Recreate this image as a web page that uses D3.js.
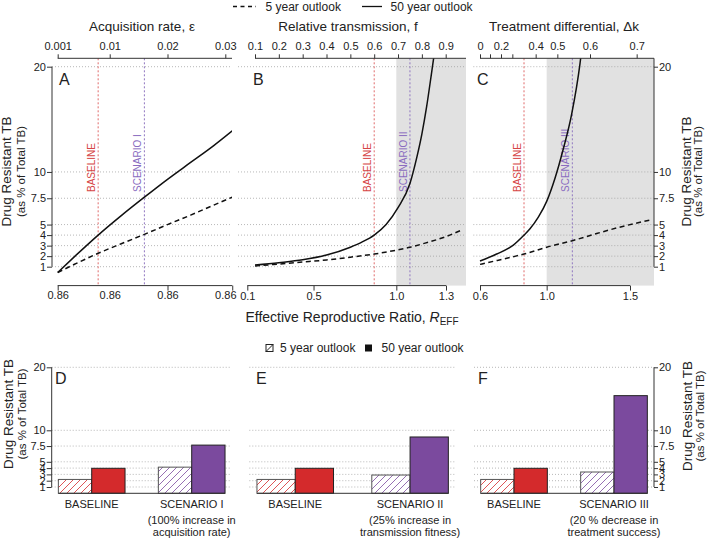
<!DOCTYPE html>
<html><head><meta charset="utf-8">
<script src="https://cdn.jsdelivr.net/npm/d3@7"></script>
<style>body{margin:0;background:#fff}svg text{font-family:"Liberation Sans",Arial,sans-serif}</style>
</head><body>
<svg id="c" width="707" height="538"></svg>
<script>
// ---------- DATA ----------
const yTicks = [1, 2, 3, 4, 5, 7.5, 10, 20];

// Panel A: acquisition rate epsilon
const epsTicks = [0.001, 0.01, 0.02, 0.03];
const epsBottomLabels = ["0.86", "0.86", "0.86", "0.86"];
const epsBottomMarks = [0.001, 0.02, 0.0312];
const epsValues  = [0.001, 0.004, 0.008, 0.012, 0.016, 0.02, 0.024, 0.028, 0.0312];
const epsSolid   = [0.45, 2.0, 4.0, 5.85, 7.6, 9.3, 10.9, 12.5, 13.9];
const epsDashed  = [0.45, 1.25, 2.27, 3.18, 4.07, 5.0, 5.9, 6.85, 7.6];
const epsBaseline = 0.008, epsScenario = 0.016;

// Panel B: relative transmission f
const fTicks = [0.1, 0.2, 0.3, 0.4, 0.5, 0.6, 0.7, 0.8, 0.9];
const rBTicks = [0.1, 0.5, 1.0, 1.3];
const fSolidX = [0.1, 0.2, 0.3, 0.4, 0.5, 0.55, 0.6, 0.65, 0.7, 0.75, 0.78, 0.8, 0.82, 0.84, 0.86];
const fSolid  = [1.16, 1.38, 1.65, 2.1, 2.85, 3.35, 4.0, 5.0, 6.6, 8.9, 11.5, 13.6, 16.2, 19.3, 22.5];
const fDashedX = [0.1, 0.2, 0.3, 0.4, 0.5, 0.6, 0.7, 0.75, 0.8, 0.9, 0.967];
const fDashed  = [1.06, 1.25, 1.44, 1.64, 1.9, 2.2, 2.6, 2.84, 3.15, 3.85, 4.48];
const fBaseline = 0.6, fScenario = 0.75;

// Panel C: treatment differential (curves keyed by R_EFF)
const rCTicks = [0.6, 1.0, 1.5];
const dkTicks = [0, 0.1, 0.2, 0.3, 0.4, 0.5, 0.6, 0.7];
const dkTickR = [0.6, 0.66, 0.726, 0.794, 0.934, 1.064, 1.26, 1.54];
const dkLabeled = [0, 0.2, 0.4, 0.5, 0.6, 0.7];
const rCSolidX = [0.6, 0.7, 0.8, 0.864, 0.9, 0.95, 1.0, 1.05, 1.1, 1.15, 1.2, 1.22];
const rCSolid  = [1.54, 2.2, 3.05, 4.0, 4.6, 5.7, 7.2, 9.4, 12.2, 15.5, 20.3, 23];
const rCDashedX = [0.6, 0.7, 0.8, 0.864, 1.0, 1.154, 1.3, 1.45, 1.62];
const rCDashed  = [1.22, 1.58, 1.95, 2.2, 2.85, 3.47, 4.15, 4.8, 5.43];
const rCBaseline = 0.864, rCScenario = 1.154;

// Bar panels
const barOutlooks = ["5 year outlook", "50 year outlook"];
const catsD = ["BASELINE", "SCENARIO I"];
const catsE = ["BASELINE", "SCENARIO II"];
const catsF = ["BASELINE", "SCENARIO III"];
const barD5 = [2.2, 4.15], barD50 = [3.97, 7.65];
const barE5 = [2.2, 2.9],  barE50 = [3.97, 8.94];
const barF5 = [2.2, 3.38], barF50 = [3.97, 15.5];
const noteD = ["(100% increase in", "acquisition rate)"];
const noteE = ["(25% increase in", "transmission fitness)"];
const noteF = ["(20 % decrease in", "treatment success)"];

// ---------- STYLE ----------
const RED = "#d42a2c", PURPLE = "#7b4a9e";
const RED_LINE = "#e06a6a", PURPLE_LINE = "#9076c0";
const RED_TXT = "#d64545", PURPLE_TXT = "#8a6cc0";
const GRID = "#9a9a9a", GRAY = "#e1e1e1", INK = "#222";

const svg = d3.select("#c");
const defs = svg.append("defs");
function hatch(id, col) {
  const p = defs.append("pattern").attr("id", id).attr("patternUnits", "userSpaceOnUse")
    .attr("width", 7).attr("height", 7);
  p.append("rect").attr("width", 7).attr("height", 7).attr("fill", "#fff");
  p.append("path").attr("d", "M0,7 L7,0 M-1,1 L1,-1 M6,8 L8,6")
    .attr("stroke", col).attr("stroke-width", 0.8);
}
hatch("hRed", RED); hatch("hPurple", PURPLE); hatch("hBlack", "#333");

// ---------- TOP PANELS ----------
const plotTop = 58.3, plotBot = 285.6;
const yTop = d3.scaleLinear().domain([0, 20]).range([277.2, 66.7]);
const xEps = d3.scaleLinear().domain([0.001, 0.03]).range([57.7, 225.3]);
const xF = d3.scaleLinear().domain([0.1, 0.9]).range([255, 445.7]);
const xRB = d3.scaleLinear().domain([0.1, 1.3]).range([247.3, 446]);
const xRC = d3.scaleLinear().domain([0.6, 1.5]).range([480, 630]);
const xDk = d3.scaleLinear().domain(dkTicks).range(dkTickR.map(xRC));

const panels = [
  {id: "A", x0: 52, x1: 232, sx: xEps, solidX: epsValues, solid: epsSolid, dashX: epsValues, dash: epsDashed,
   base: epsBaseline, scen: epsScenario, scenName: "SCENARIO I", gray: null},
  {id: "B", x0: 238, x1: 466, sx: xF, solidX: fSolidX, solid: fSolid, dashX: fDashedX, dash: fDashed,
   base: fBaseline, scen: fScenario, scenName: "SCENARIO II", gray: xRB(1.0)},
  {id: "C", x0: 473.3, x1: 654, sx: xRC, solidX: rCSolidX, solid: rCSolid, dashX: rCDashedX, dash: rCDashed,
   base: rCBaseline, scen: rCScenario, scenName: "SCENARIO III", gray: xRC(1.0)}
];

function styleAxis(g) {
  g.attr("font-family", null).attr("font-size", null);
  g.selectAll("text").style("font-size", "11px").attr("fill", INK);
  g.selectAll(".tick line").attr("stroke", "#333");
  g.select(".domain").remove();
}
function hline(g, x0, x1, y) {
  g.append("line").attr("x1", x0).attr("x2", x1).attr("y1", y).attr("y2", y).attr("stroke", "#333").attr("stroke-width", 1);
}
function vline(g, x, y0, y1) {
  g.append("line").attr("x1", x).attr("x2", x).attr("y1", y0).attr("y2", y1).attr("stroke", "#333").attr("stroke-width", 1);
}

panels.forEach(p => {
  const g = svg.append("g");
  if (p.gray !== null) {
    g.append("rect").attr("x", p.gray).attr("y", plotTop).attr("width", p.x1 - p.gray)
      .attr("height", plotBot - plotTop).attr("fill", GRAY);
  }
  g.selectAll(".grid").data(yTicks).join("line")
    .attr("x1", p.x0).attr("x2", p.x1).attr("y1", d => yTop(d)).attr("y2", d => yTop(d))
    .attr("stroke", GRID).attr("stroke-width", 0.7).attr("stroke-dasharray", "1,2");
  // reference lines
  [[p.base, RED_LINE, RED_TXT, "BASELINE"], [p.scen, PURPLE_LINE, PURPLE_TXT, p.scenName]].forEach(([v, lc, tc, name]) => {
    const x = p.sx(v);
    g.append("line").attr("x1", x).attr("x2", x).attr("y1", plotTop).attr("y2", plotBot)
      .attr("stroke", lc).attr("stroke-width", 1).attr("stroke-dasharray", "2,2");
    g.append("text").attr("transform", `translate(${x - 3},192) rotate(-90)`)
      .attr("fill", tc).style("font-size", "10px").text(name);
  });
  const clipId = "clip" + p.id;
  defs.append("clipPath").attr("id", clipId).append("rect")
    .attr("x", p.x0).attr("y", plotTop).attr("width", p.x1 - p.x0).attr("height", plotBot - plotTop);
  const line = d3.line().x(d => p.sx(d[0])).y(d => yTop(d[1])).curve(d3.curveMonotoneX);
  g.append("path").datum(p.dashX.map((x, i) => [x, p.dash[i]])).attr("d", line)
    .attr("clip-path", `url(#${clipId})`).attr("fill", "none").attr("stroke", "#111")
    .attr("stroke-width", 1.5).attr("stroke-dasharray", "5,3.5");
  g.append("path").datum(p.solidX.map((x, i) => [x, p.solid[i]])).attr("d", line)
    .attr("clip-path", `url(#${clipId})`).attr("fill", "none").attr("stroke", "#111").attr("stroke-width", 1.5);
  g.append("text").attr("x", p.id === "C" ? 477 : (p.id === "B" ? 253 : 59)).attr("y", 85)
    .style("font-size", "16px").attr("fill", INK).text(p.id);
});

// top panel axes
// A left
let ga = svg.append("g").attr("transform", "translate(52,0)")
  .call(d3.axisLeft(yTop).tickValues(yTicks).tickSize(5).tickPadding(1).tickFormat(d => d));
styleAxis(ga); vline(ga, 0, yTop(1), yTop(20));
// C right
ga = svg.append("g").attr("transform", "translate(654,0)")
  .call(d3.axisRight(yTop).tickValues(yTicks).tickSize(4).tickPadding(1).tickFormat(d => d));
styleAxis(ga); vline(ga, 0, yTop(1), plotTop);
// A top
ga = svg.append("g").attr("transform", `translate(0,${plotTop})`)
  .call(d3.axisTop(xEps).tickValues(epsTicks).tickSize(4).tickPadding(4).tickFormat(d => d));
styleAxis(ga); hline(ga, xEps(0.001), 232, 0);
// A bottom
ga = svg.append("g").attr("transform", `translate(0,${plotBot})`)
  .call(d3.axisBottom(xEps).tickValues(epsBottomMarks).tickSize(5).tickFormat(""));
styleAxis(ga); hline(ga, xEps(0.001), xEps(0.0312), 0);
ga = svg.append("g").attr("transform", `translate(0,${plotBot})`)
  .call(d3.axisBottom(xEps).tickValues(epsTicks).tickSize(0).tickPadding(6).tickFormat((d, i) => epsBottomLabels[i]));
styleAxis(ga);
// B top
ga = svg.append("g").attr("transform", `translate(0,${plotTop})`)
  .call(d3.axisTop(xF).tickValues(fTicks).tickSize(4).tickPadding(4).tickFormat(d => d));
styleAxis(ga); hline(ga, xF(0.1), 466, 0);
// B bottom
ga = svg.append("g").attr("transform", `translate(0,${plotBot})`)
  .call(d3.axisBottom(xRB).tickValues(rBTicks).tickSize(5).tickPadding(2).tickFormat(d3.format(".1f")));
styleAxis(ga); hline(ga, xRB(0.1), xRB(1.3), 0);
// C top
ga = svg.append("g").attr("transform", `translate(0,${plotTop})`)
  .call(d3.axisTop(xDk).tickValues(dkTicks).tickSize(4).tickPadding(4)
    .tickFormat(d => dkLabeled.includes(d) ? String(d) : ""));
styleAxis(ga); hline(ga, xDk(0), 654, 0);
// C bottom
ga = svg.append("g").attr("transform", `translate(0,${plotBot})`)
  .call(d3.axisBottom(xRC).tickValues(rCTicks).tickSize(5).tickPadding(2).tickFormat(d3.format(".1f")));
styleAxis(ga); hline(ga, xRC(0.6), xRC(1.5), 0);

// titles
[["Acquisition rate, \u03b5", 142], ["Relative transmission, f", 348], ["Treatment differential, \u0394k", 564]]
  .forEach(([t, x]) => svg.append("text").attr("x", x).attr("y", 30.5).attr("text-anchor", "middle")
    .style("font-size", "13.5px").attr("fill", INK).text(t));

// top legend
svg.append("line").attr("x1", 233).attr("x2", 256).attr("y1", 6.5).attr("y2", 6.5)
  .attr("stroke", "#111").attr("stroke-width", 1.3).attr("stroke-dasharray", "4,3.5");
svg.append("text").attr("x", 265.5).attr("y", 10.8).style("font-size", "12px").attr("fill", INK).text("5 year outlook");
svg.append("line").attr("x1", 362).attr("x2", 382).attr("y1", 6.5).attr("y2", 6.5)
  .attr("stroke", "#111").attr("stroke-width", 1.3);
svg.append("text").attr("x", 390.5).attr("y", 10.8).style("font-size", "12px").attr("fill", INK).text("50 year outlook");

// x axis title
const xt = svg.append("text").attr("x", 352).attr("y", 322).attr("text-anchor", "middle")
  .style("font-size", "14px").attr("fill", INK);
xt.append("tspan").text("Effective Reproductive Ratio, ");
xt.append("tspan").style("font-style", "italic").text("R");
xt.append("tspan").attr("dy", 3).style("font-size", "10px").text("EFF");

// y titles
function yTitle(xMain, xSub, cy) {
  svg.append("text").attr("transform", `translate(${xMain},${cy}) rotate(-90)`).attr("text-anchor", "middle")
    .style("font-size", "13.5px").attr("fill", INK).text("Drug Resistant TB");
  svg.append("text").attr("transform", `translate(${xSub},${cy}) rotate(-90)`).attr("text-anchor", "middle")
    .style("font-size", "11.5px").attr("fill", INK).text("(as % of Total TB)");
}
yTitle(11, 25, 171.5);
yTitle(690.5, 701.5, 171.5);
yTitle(12.5, 26, 414);
yTitle(692, 704, 416);

// ---------- BOTTOM PANELS ----------
const yBot = d3.scaleLinear().domain([0, 20]).range([493.3, 367.3]);
const barPanels = [
  {id: "D", x0: 51.7, x1: 231.7, cats: catsD, v5: barD5, v50: barD50, note: noteD, lx: 55},
  {id: "E", x0: 249.3, x1: 456, cats: catsE, v5: barE5, v50: barE50, note: noteE, lx: 256},
  {id: "F", x0: 474, x1: 654, cats: catsF, v5: barF5, v50: barF50, note: noteF, lx: 478}
];
barPanels.forEach(p => {
  const g = svg.append("g");
  const pad = (p.x1 - p.x0) * 0.04 / 1.08;
  const xb = d3.scaleBand().domain(p.cats).range([p.x0 + pad, p.x1 - pad]).paddingInner(1 / 3).paddingOuter(0);
  const xs = d3.scaleBand().domain(barOutlooks).range([0, xb.bandwidth()]);
  g.selectAll(".grid").data(yTicks).join("line")
    .attr("x1", p.x0).attr("x2", p.x1).attr("y1", d => yBot(d)).attr("y2", d => yBot(d))
    .attr("stroke", GRID).attr("stroke-width", 0.7).attr("stroke-dasharray", "1,2");
  const rows = [];
  p.cats.forEach((c, i) => {
    rows.push({c, o: barOutlooks[0], v: p.v5[i], i});
    rows.push({c, o: barOutlooks[1], v: p.v50[i], i});
  });
  g.selectAll(".bar").data(rows).join("rect")
    .attr("x", d => xb(d.c) + xs(d.o)).attr("width", xs.bandwidth())
    .attr("y", d => yBot(d.v)).attr("height", d => yBot(0) - yBot(d.v))
    .attr("fill", d => d.o === barOutlooks[0] ? (d.i === 0 ? "url(#hRed)" : "url(#hPurple)") : (d.i === 0 ? RED : PURPLE))
    .attr("stroke", d => d.o === barOutlooks[0] ? "#555" : "#222").attr("stroke-width", 1);
  hline(g, xb(p.cats[0]), xb(p.cats[1]) + xb.bandwidth(), yBot(0));
  p.cats.forEach(c => {
    g.append("text").attr("x", xb(c) + xb.bandwidth() / 2).attr("y", 508).attr("text-anchor", "middle")
      .style("font-size", "11px").attr("fill", INK).text(c);
  });
  const nx = xb(p.cats[1]) + xb.bandwidth() / 2;
  p.note.forEach((t, k) => g.append("text").attr("x", nx).attr("y", 523.5 + k * 12).attr("text-anchor", "middle")
    .style("font-size", "11px").attr("fill", INK).text(t));
  g.append("text").attr("x", p.lx).attr("y", 383.5).style("font-size", "16px").attr("fill", INK).text(p.id);
});
ga = svg.append("g").attr("transform", "translate(51.7,0)")
  .call(d3.axisLeft(yBot).tickValues(yTicks).tickSize(5).tickPadding(1).tickFormat(d => d));
styleAxis(ga); vline(ga, 0, yBot(1), yBot(20));
ga = svg.append("g").attr("transform", "translate(654,0)")
  .call(d3.axisRight(yBot).tickValues(yTicks).tickSize(4).tickPadding(1).tickFormat(d => d));
styleAxis(ga); vline(ga, 0, yBot(1), yBot(20));

// bottom legend
svg.append("rect").attr("x", 266).attr("y", 344.5).attr("width", 7).attr("height", 7)
  .attr("fill", "#fff").attr("stroke", "#222");
svg.append("line").attr("x1", 266).attr("y1", 351.5).attr("x2", 273).attr("y2", 344.5).attr("stroke", "#222");
svg.append("text").attr("x", 280).attr("y", 352).style("font-size", "12px").attr("fill", INK).text(barOutlooks[0]);
svg.append("rect").attr("x", 365).attr("y", 344.5).attr("width", 7).attr("height", 7).attr("fill", "#111");
svg.append("text").attr("x", 381.5).attr("y", 352).style("font-size", "12px").attr("fill", INK).text(barOutlooks[1]);
</script>
</body></html>
